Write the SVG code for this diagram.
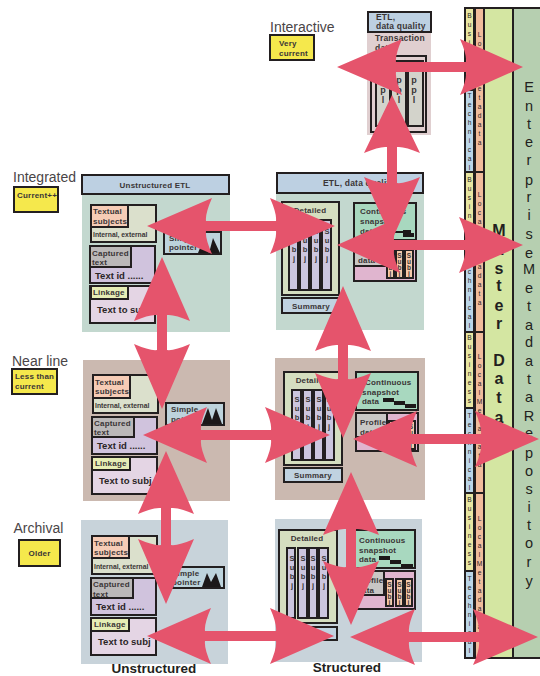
<svg xmlns="http://www.w3.org/2000/svg" width="540" height="676" viewBox="0 0 540 676">
<style>
text{font-family:"Liberation Sans",Arial,sans-serif;fill:#3a3536}
.b{font-weight:bold}
.s8{font-size:8px;font-weight:bold;letter-spacing:.2px}
.s7{font-size:6.8px;font-weight:bold}
.s10{font-size:9.5px;font-weight:bold;fill:#2a2526}
.lv{font-size:14px;fill:#4a4547}
.m{text-anchor:middle}
.box{stroke:#231f20;stroke-width:2}
.pale{fill:#dbe0cc}.sub{fill:#f6ccb6}.cap{fill:#d0c3dd}.grey{fill:#bbb8b8}.link{fill:#e4d5e4}.lsub{fill:#e6edb5}
.ptr{fill:#bdd3dc}.yel{fill:#f5e84c}.etl{fill:#bdd0e2}.det{fill:#d5dec0}.col{fill:#ccc6de}.cont{fill:#a8d8bf}.prof{fill:#e0b5cf}.pg{fill:#c9c7c5}.sc{fill:#f5c9aa}
.biz{fill:#e8e6a2}.tec{fill:#bcd6e8}.loc{fill:#f0bc9c}
.tiny{font-size:6.6px;text-anchor:middle;fill:#2a2526}
.vt{font-size:7.5px;font-weight:bold;text-anchor:middle;fill:#3a3536}
.lt{font-size:6.5px;font-weight:bold;text-anchor:middle;fill:#3a3536}
.arrow{fill:#e5546c}
</style>

<g id="level-interactive">
<text class="lv" x="270" y="32">Interactive</text>
<rect class="box yel" x="270" y="35" width="44" height="25"/>
<text class="s8" x="279" y="46">Very</text><text class="s8" x="279" y="56">current</text>
</g>
<g id="level-integrated">
<text class="lv" x="13" y="182">Integrated</text>
<rect class="box yel" x="14" y="187" width="44" height="25"/>
<text class="s8" x="17" y="198">Current++</text>
</g>
<g id="level-nearline">
<text class="lv" x="12" y="366">Near line</text>
<rect class="box yel" x="12" y="369" width="45" height="25"/>
<text class="s8" x="15" y="379">Less than</text><text class="s8" x="15" y="389">current</text>
</g>
<g id="level-archival">
<text class="lv" x="13.500" y="533">Archival</text>
<rect class="box yel" x="19" y="540" width="41" height="26"/>
<text class="s8 m" x="39.500" y="556">Older</text>
</g>

<g id="panel-interactive">
<rect x="367" y="12" width="64" height="123" fill="#e0cfd0"/>
<rect class="box etl" x="368" y="12" width="63" height="20"/>
<text class="s8" x="376" y="20" style="font-size:8.500px">ETL,</text>
<text class="s8" x="376" y="29" style="font-size:8.500px">data quality</text>
<text class="s8" x="375" y="41" style="font-size:8.500px">Transaction</text>
<text class="s8" x="375" y="51" style="font-size:8.500px">data</text>
<rect class="box" x="371" y="56" width="55" height="76" fill="#e0cfd0"/>
<rect class="box" x="376" y="61" width="14" height="65" fill="#d3d3cb"/>
<rect class="box" x="391" y="61" width="15" height="65" fill="#d3d3cb"/>
<rect class="box" x="408" y="61" width="15" height="65" fill="#d3d3cb"/>
<text x="383 383 383 383" y="72 83 93 103" class="vt" style="font-size:9px">Appl</text>
<text x="399 399 399 399" y="72 83 93 103" class="vt" style="font-size:9px">Appl</text>
<text x="414 414 414 414" y="72 83 93 103" class="vt" style="font-size:9px">Appl</text>
</g>

<g id="panel-unstructured-integrated">
<rect x="82" y="193" width="148" height="139" fill="#c3d8cf"/>
<rect class="box etl" x="82" y="175" width="147" height="19"/>
<text class="s8 m" x="155" y="188">Unstructured ETL</text>
<rect class="box pale" x="91" y="205" width="65" height="37"/>
<rect class="box sub" x="91" y="205" width="37" height="22"/>
<text class="s8" x="93" y="214">Textual</text><text class="s8" x="93" y="224">subjects</text>
<text class="s7" x="93" y="237">Internal, external</text>
<rect class="box cap" x="90" y="246" width="65" height="37"/>
<rect class="box grey" x="90" y="246" width="41" height="21"/>
<text class="s8" x="92" y="256">Captured</text><text class="s8" x="92" y="265">text</text>
<text class="s10" x="95" y="279">Text id ......</text>
<rect class="box link" x="90" y="286" width="65" height="37"/>
<rect class="box lsub" x="91" y="286" width="37" height="13"/>
<text class="s8" x="93" y="295">Linkage</text>
<text class="s10" x="97" y="313">Text to subj</text>
<rect class="box ptr" x="164" y="232" width="57" height="22"/>
<text class="s8" x="169" y="241">Simple</text><text class="s8" x="169" y="250">pointer</text>
<polygon points="198,253 204,238 209,253 213,238 220,253" fill="#1c1819"/>
</g>

<g id="panel-unstructured-nearline">
<rect x="83" y="360" width="147" height="141" fill="#cbb9b0"/>
<rect class="box pale" x="93" y="375" width="65" height="38"/>
<rect class="box sub" x="93" y="375" width="37" height="23"/>
<text class="s8" x="95" y="385">Textual</text><text class="s8" x="95" y="394">subjects</text>
<text class="s7" x="95" y="408">Internal, external</text>
<rect class="box cap" x="92" y="417" width="65" height="37"/>
<rect class="box grey" x="92" y="417" width="42" height="20"/>
<text class="s8" x="94" y="426">Captured</text><text class="s8" x="94" y="435">text</text>
<text class="s10" x="97" y="449">Text id ......</text>
<rect class="box link" x="92" y="457" width="65" height="37"/>
<rect class="box lsub" x="92" y="457" width="38" height="13"/>
<text class="s8" x="95" y="466">Linkage</text>
<text class="s10" x="99" y="484">Text to subj</text>
<rect class="box ptr" x="166" y="403" width="58" height="22"/>
<text class="s8" x="171" y="412">Simple</text><text class="s8" x="171" y="422">pointer</text>
<polygon points="202,424 208,408 212,420 216,408 222,424" fill="#1c1819"/>
</g>

<g id="panel-unstructured-archival">
<rect x="81" y="520" width="147" height="144" fill="#c8d3da"/>
<rect class="box pale" x="92" y="536" width="65" height="38"/>
<rect class="box sub" x="92" y="536" width="37" height="22"/>
<text class="s8" x="94" y="546">Textual</text><text class="s8" x="94" y="555">subjects</text>
<text class="s7" x="94" y="569">Internal, external</text>
<rect class="box cap" x="91" y="578" width="65" height="37"/>
<rect class="box grey" x="91" y="578" width="42" height="20"/>
<text class="s8" x="93" y="587">Captured</text><text class="s8" x="93" y="597">text</text>
<text class="s10" x="96" y="610">Text id ......</text>
<rect class="box link" x="91" y="618" width="65" height="37"/>
<rect class="box lsub" x="91" y="618" width="38" height="13"/>
<text class="s8" x="94" y="627">Linkage</text>
<text class="s10" x="98" y="645">Text to subj</text>
<rect class="box ptr" x="165" y="567" width="59" height="21"/>
<text class="s8" x="172" y="576">Simple</text><text class="s8" x="172" y="585">pointer</text>
<polygon points="202,587 207,573 211,582 216,573 221,587" fill="#1c1819"/>
</g>

<g id="panel-structured-integrated">
<rect x="276" y="193" width="148" height="137" fill="#c3d8cf"/>
<rect class="box etl" x="277" y="173" width="146" height="20"/>
<text class="s8" x="323" y="186" style="font-size:8.500px">ETL, data quality</text>
<rect class="box det" x="282" y="202" width="57" height="93"/>
<text class="s8 m" x="310" y="213">Detailed</text>
<rect class="box col" x="289" y="220" width="9" height="70"/><rect class="box col" x="300" y="220" width="9" height="70"/><rect class="box col" x="311" y="220" width="9" height="70"/><rect class="box col" x="322" y="220" width="9" height="70"/>
<text x="294 294 294 294" y="234 243 252 261" class="vt">Subj</text><text x="305 305 305 305" y="234 243 252 261" class="vt">Subj</text><text x="316 316 316 316" y="234 243 252 261" class="vt">Subj</text><text x="327 327 327 327" y="234 243 252 261" class="vt">Subj</text>
<rect class="box" x="282" y="298" width="57" height="15" fill="#c0d2e0"/>
<text class="s8 m" x="311" y="309">Summary</text>
<rect class="box cont" x="354" y="203" width="62" height="37"/>
<text class="s8" x="360" y="214">Continuous</text><text class="s8" x="360" y="224">snapshot</text><text class="s8" x="360" y="234">data</text>
<path d="M395,231h8v-1h8v6h-8v-3h-8zM403,233h11v4h-11z" fill="#1c1819"/>
<rect class="box prof" x="354" y="240" width="62" height="41"/>
<rect class="box pg" x="354" y="240" width="32" height="26"/>
<text class="s8" x="358" y="252">Profile</text><text class="s8" x="358" y="263">data</text>
<rect class="box sc" x="387" y="250" width="7" height="28"/><rect class="box sc" x="396" y="250" width="7" height="28"/><rect class="box sc" x="405" y="250" width="8" height="28"/>
<text x="390.500 390.500 390.500 390.500" y="258 264 270 276" class="lt">Subj</text><text x="399.500 399.500 399.500 399.500" y="258 264 270 276" class="lt">Subj</text><text x="409 409 409 409" y="258 264 270 276" class="lt">Subj</text>
</g>

<g id="panel-structured-nearline">
<rect x="275" y="358" width="150" height="142" fill="#cbb9b0"/>
<rect class="box det" x="284" y="372" width="58" height="93"/>
<text class="s8 m" x="312" y="383">Detailed</text>
<rect class="box col" x="292" y="390" width="9" height="70"/><rect class="box col" x="303" y="390" width="9" height="70"/><rect class="box col" x="314" y="390" width="9" height="70"/><rect class="box col" x="325" y="390" width="9" height="70"/>
<text x="297 297 297 297" y="402 411 420 429" class="vt">Subj</text><text x="308 308 308 308" y="402 411 420 429" class="vt">Subj</text><text x="319 319 319 319" y="402 411 420 429" class="vt">Subj</text><text x="329 329 329 329" y="402 411 420 429" class="vt">Subj</text>
<rect class="box" x="284" y="468" width="58" height="14" fill="#c0d2e0"/>
<text class="s8 m" x="313" y="478">Summary</text>
<rect class="box cont" x="356" y="372" width="62" height="38"/>
<text class="s8" x="365" y="385">Continuous</text><text class="s8" x="362" y="395">snapshot</text><text class="s8" x="362" y="404">data</text>
<path d="M383,398h11v4h-11zM394,401h11v4h-11zM405,404h11v4h-11z" fill="#1c1819"/>
<rect class="box prof" x="356" y="413" width="62" height="38"/>
<rect class="box pg" x="356" y="413" width="31" height="24"/>
<text class="s8" x="360" y="425">Profile</text><text class="s8" x="360" y="435">data</text>
<rect class="box sc" x="389" y="421" width="7" height="28"/><rect class="box sc" x="398" y="421" width="7" height="28"/><rect class="box sc" x="407" y="421" width="8" height="28"/>
<text x="392.500 392.500 392.500 392.500" y="429 435 441 447" class="lt">Subj</text><text x="401.500 401.500 401.500 401.500" y="429 435 441 447" class="lt">Subj</text><text x="411 411 411 411" y="429 435 441 447" class="lt">Subj</text>
</g>

<g id="panel-structured-archival">
<rect x="275" y="519" width="147" height="143" fill="#c8d3da"/>
<rect class="box det" x="279" y="530" width="58" height="93"/>
<text class="s8 m" x="307" y="541">Detailed</text>
<rect class="box col" x="287" y="548" width="8" height="70"/><rect class="box col" x="298" y="548" width="9" height="70"/><rect class="box col" x="309" y="548" width="8" height="70"/><rect class="box col" x="319" y="548" width="9" height="70"/>
<text x="292 292 292 292" y="561 570 579 588" class="vt">Subj</text><text x="303 303 303 303" y="561 570 579 588" class="vt">Subj</text><text x="313 313 313 313" y="561 570 579 588" class="vt">Subj</text><text x="324 324 324 324" y="561 570 579 588" class="vt">Subj</text>
<rect class="box" x="279" y="627" width="58" height="13" fill="#c0d2e0"/>
<text class="s8 m" x="308" y="637">Summary</text>
<rect class="box cont" x="353" y="530" width="62" height="38"/>
<text class="s8" x="359" y="543">Continuous</text><text class="s8" x="359" y="553">snapshot</text><text class="s8" x="359" y="562">data</text>
<path d="M379,556h11v4h-11zM390,560h11v4h-11zM401,564h12v4h-12z" fill="#1c1819"/>
<rect class="box prof" x="353" y="571" width="62" height="38"/>
<rect class="box pg" x="353" y="571" width="31" height="24"/>
<text class="s8" x="357" y="583">Profile</text><text class="s8" x="357" y="593">data</text>
<rect class="box sc" x="386" y="579" width="7" height="27"/><rect class="box sc" x="396" y="579" width="7" height="27"/><rect class="box sc" x="405" y="579" width="7" height="27"/>
<text x="389.500 389.500 389.500 389.500" y="587 593 599 605" class="lt">Subj</text><text x="399.500 399.500 399.500 399.500" y="587 593 599 605" class="lt">Subj</text><text x="408.500 408.500 408.500 408.500" y="587 593 599 605" class="lt">Subj</text>
</g>

<g id="captions">
<text class="b m" x="154" y="673" style="font-size:13.500px;fill:#231f20">Unstructured</text>
<text class="b m" x="347" y="672" style="font-size:13.500px;fill:#231f20">Structured</text>
</g>

<g id="column-business-technical">
<rect class="box biz" x="465" y="8" width="9" height="82"/><rect class="box tec" x="465" y="90" width="9" height="82"/>
<rect class="box biz" x="465" y="172" width="9" height="78"/><rect class="box tec" x="465" y="250" width="9" height="82"/>
<rect class="box biz" x="465" y="332" width="9" height="76"/><rect class="box tec" x="465" y="408" width="9" height="85"/>
<rect class="box biz" x="465" y="493" width="9" height="78"/><rect class="box tec" x="465" y="571" width="9" height="87"/>
<text class="tiny" x="469.500 469.500 469.500 469.500 469.500 469.500 469.500 469.500" y="18 27 36 45 54 63 72 81">Business</text>
<text class="tiny" x="469.500 469.500 469.500 469.500 469.500 469.500 469.500 469.500 469.500" y="98 107 116 125 134 143 152 161 170">Technical</text>
<text class="tiny" x="469.500 469.500 469.500 469.500 469.500 469.500 469.500 469.500" y="182 191 200 209 218 227 236 245">Business</text>
<text class="tiny" x="469.500 469.500 469.500 469.500 469.500 469.500 469.500 469.500 469.500" y="256 265 274 283 292 301 310 319 328">Technical</text>
<text class="tiny" x="469.500 469.500 469.500 469.500 469.500 469.500 469.500 469.500" y="340 349 358 367 376 385 394 403">Business</text>
<text class="tiny" x="469.500 469.500 469.500 469.500 469.500 469.500 469.500 469.500 469.500" y="418 427 436 445 454 463 472 481 490">Technical</text>
<text class="tiny" x="469.500 469.500 469.500 469.500 469.500 469.500 469.500 469.500" y="502 511 520 529 538 547 556 565">Business</text>
<text class="tiny" x="469.500 469.500 469.500 469.500 469.500 469.500 469.500 469.500 469.500" y="581 590 599 608 617 626 635 644 653">Technical</text>
</g>
<g id="column-local-metadata">
<rect class="box loc" x="475" y="8" width="9" height="164"/><rect class="box loc" x="475" y="172" width="9" height="160"/>
<rect class="box loc" x="475" y="332" width="9" height="161"/><rect class="box loc" x="475" y="493" width="9" height="165"/>
<text class="tiny" x="479.500 479.500 479.500 479.500 479.500 479.500 479.500 479.500 479.500 479.500 479.500 479.500 479.500" y="37 46 55 64 73 82 91 100 109 118 127 136 145">LocalMetadata</text>
<text class="tiny" x="479.500 479.500 479.500 479.500 479.500 479.500 479.500 479.500 479.500 479.500 479.500 479.500 479.500" y="197 206 215 224 233 242 251 260 269 278 287 296 305">LocalMetadata</text>
<text class="tiny" x="479.500 479.500 479.500 479.500 479.500 479.500 479.500 479.500 479.500 479.500 479.500 479.500 479.500" y="359 368 377 386 395 404 413 422 431 440 449 458 467">LocalMetadata</text>
<text class="tiny" x="479.500 479.500 479.500 479.500 479.500 479.500 479.500 479.500 479.500 479.500 479.500 479.500 479.500" y="521 530 539 548 557 566 575 584 593 602 611 620 629">LocalMetadata</text>
</g>
<g id="column-master-data">
<rect class="box" x="484" y="8" width="29" height="650" fill="#d4e6a2"/>
<text class="b m" x="499 499 499 499 499 499 499 499 499 499" y="236 255 274 291 311 329 366 384 403 423" style="font-size:16px;fill:#231f20">MasterData</text>
</g>
<g id="column-enterprise-metadata">
<rect class="box" x="513" y="8" width="29" height="650" fill="#b6cfb0"/>
<text class="m" x="529 529 529 529 529 529 529 529 529 529 529 529 529 529 529 529 529 529 529 529 529 529 529 529 529 529 529 529" y="92 111 129 147 165 185 202 220 239 258 274 293 311 330 347 366 384 402 421 438 458 476 494 512 530 548 567 586" style="font-size:14.500px;fill:#231f20">EnterpriseMetadataRepository</text>
</g>

<g id="connectors">
<path class="arrow" d="M337,67 L402,39 Q395,55 396,62 L466,62 Q467,55 460,39 L523,67 L460,95 Q467,79 466,72 L396,72 Q395,79 402,95 Z"/>
<path class="arrow" d="M147,226 L212,198 Q205,214 206,221 L276,221 Q277,214 270,198 L335,226 L270,254 Q277,238 276,231 L206,231 Q205,238 212,254 Z"/>
<path class="arrow" d="M337,245 L400,217 Q393,233 394,240 L465,240 Q466,233 459,217 L523,245 L459,273 Q466,257 465,250 L394,250 Q393,257 400,273 Z"/>
<path class="arrow" d="M143,435 L207,407 Q200,423 201,430 L271,430 Q272,423 265,407 L330,435 L265,463 Q272,447 271,440 L201,440 Q200,447 207,463 Z"/>
<path class="arrow" d="M353,439 L417,411 Q410,427 411,434 L481,434 Q482,427 475,411 L539,439 L475,467 Q482,451 481,444 L411,444 Q410,451 417,467 Z"/>
<path class="arrow" d="M147,636 L211,608 Q204,624 205,631 L276,631 Q277,624 270,608 L334,636 L270,664 Q277,648 276,641 L205,641 Q204,648 211,664 Z"/>
<path class="arrow" d="M350,637 L415,609 Q408,625 409,632 L479,632 Q480,625 473,609 L538,637 L473,665 Q480,649 479,642 L409,642 Q408,649 415,665 Z"/>
<path class="arrow" d="M392,95 L420,153 Q404,146 397,147 L397,183 Q404,184 420,177 L392,240 L364,177 Q380,184 387,183 L387,147 Q380,146 364,153 Z"/>
<path class="arrow" d="M343,286 L371,351 Q355,344 348,345 L348,379 Q355,380 371,373 L343,438 L315,373 Q331,380 338,379 L338,345 Q331,344 315,351 Z"/>
<path class="arrow" d="M162,257 L190,321 Q174,314 167,315 L167,350 Q174,351 190,344 L162,409 L134,344 Q150,351 157,350 L157,315 Q150,314 134,321 Z"/>
<path class="arrow" d="M166,451 L194,514 Q178,507 171,508 L171,545 Q178,546 194,539 L166,604 L138,539 Q154,546 161,545 L161,508 Q154,507 138,514 Z"/>
<path class="arrow" d="M351,472 L379,535 Q363,528 356,529 L356,567 Q363,568 379,561 L351,625 L323,561 Q339,568 346,567 L346,529 Q339,528 323,535 Z"/>
</g>
</svg>
